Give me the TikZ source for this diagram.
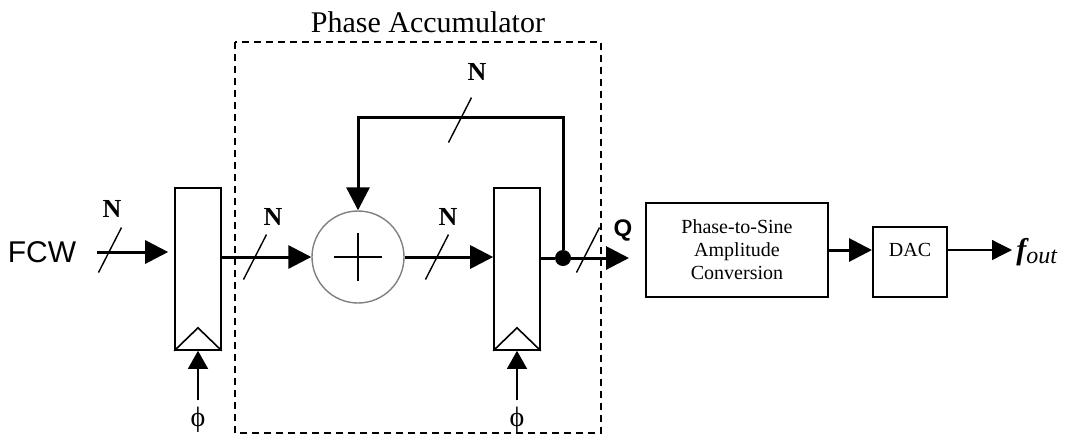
\documentclass[tikz,border=0pt]{standalone}
\usepackage{fontspec}
\setmainfont{Liberation Serif}
\newfontfamily\arialfont{Liberation Sans}
\usetikzlibrary{arrows.meta,positioning,calc}

\begin{document}
\begin{tikzpicture}[x=0.5pt,y=-0.5pt,
  reg/.style={draw,line width=0.8pt,minimum width=23pt,minimum height=81pt,inner sep=0pt},
  blk/.style={draw,line width=1pt,inner sep=0pt,align=center,font=\fontsize{10}{11.5}\selectfont},
  bus/.style={line width=1.5pt,-{Triangle[length=11.5pt,width=11.5pt]}},
  wire/.style={line width=1.5pt},
  clk/.style={line width=0.7pt,-{Triangle[length=9pt,width=10pt]}},
  thin/.style={line width=0.6pt,-{Triangle[length=10pt,width=10pt]}},
  tick/.style={line width=0.7pt},
  lbl/.style={font=\fontsize{13}{15}\selectfont\bfseries,inner sep=1pt}]
\useasboundingbox (0,0) rectangle (1070,436);
% phase accumulator frame
\draw[line width=0.8pt,dash pattern=on 3.5pt off 2.5pt] (235,42) rectangle (601,433);
\node[font=\fontsize{15}{17}\selectfont] (title) at (428,22) {Phase Accumulator};
% blocks
\node[reg] (reg1) at (198,269) {};
\node[reg] (reg2) at (517,269) {};
\node[circle,draw=gray,line width=0.7pt,minimum size=46pt,inner sep=0pt] (add) at (358,257) {};
\draw[line width=0.6pt] ([xshift=-12pt]add.center) -- ([xshift=12pt]add.center);
\draw[line width=0.6pt] ([yshift=-12pt]add.center) -- ([yshift=12pt]add.center);
\node[blk,minimum width=91pt,minimum height=47pt] (pss) at (737,250) {Phase-to-Sine\\Amplitude\\Conversion};
\node[blk,minimum width=37pt,minimum height=35pt,
  label={[anchor=north,yshift=-5pt,font=\fontsize{10}{12}\selectfont]north:DAC}] (dac) at (910,262) {};
% clock triangles
\foreach \r in {reg1,reg2}
  \draw[line width=0.8pt] (\r.south west) -- ([yshift=11.5pt]\r.south) -- (\r.south east);
% clocks
\node[font=\fontsize{14}{16}\selectfont] (phi1) at (198,420) {ϕ};
\node[font=\fontsize{14}{16}\selectfont] (phi2) at (517,420) {ϕ};
\draw[clk] (phi1.north) -- (reg1.south);
\draw[clk] (phi2.north) -- (reg2.south);
% data path
\node[font=\fontsize{15}{17}\selectfont\arialfont] (fcw) at (42,252) {FCW};
\draw[bus] ([xshift=7pt]fcw.east) -- ([xshift=-3pt]reg1.west |- fcw.east);
\draw[bus] (reg1.east |- add) -- (add.west);
\draw[bus] (add.east) -- (add.east -| reg2.west);
\node[circle,fill,inner sep=0pt,minimum size=8pt] (tap) at (563,258) {};
\draw[wire] (reg2.east |- tap) -- (tap);
\draw[bus] (tap) -- ([xshift=-8pt]pss.west |- tap);
\draw[bus] (tap) -- ++(0,-141) -| (add.north);
\draw[bus] (pss.east) -- (pss.east -| dac.west);
\node[anchor=west,inner sep=1pt] (fout) at (1014,252) {\fontsize{15}{17}\selectfont\bfseries\itshape f\mdseries\fontsize{12}{14}\selectfont\raisebox{-2pt}{out}};
\draw[thin] (dac.east |- pss.east) -- ([xshift=-1pt]fout.west |- pss.east);
% bus width marks
\foreach \x/\y in {110/250, 255/257, 437/257, 588/250, 460/120}
  \draw[tick] (\x-11.5,\y+22.5) -- (\x+11.5,\y-22.5);
\node[lbl] (n1) at (112,209) {N};
\node[lbl] (n2) at (273,217) {N};
\node[lbl] (n3) at (448,217) {N};
\node[lbl] (n4) at (477,72) {N};
\node[font=\fontsize{12}{14}\selectfont\arialfont\bfseries,inner sep=1pt] (q) at (623,230) {Q};
\end{tikzpicture}
\end{document}
